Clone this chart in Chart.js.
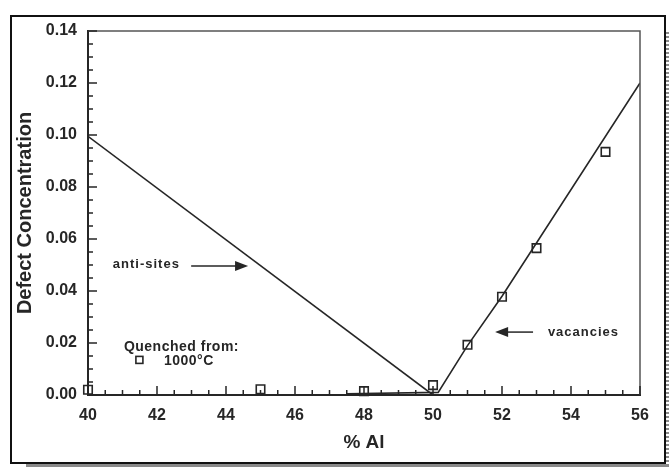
<!DOCTYPE html>
<html>
<head>
<meta charset="utf-8">
<script src="https://cdn.jsdelivr.net/npm/chart.js@4"></script>
<style>
  body { margin: 0; background: #fff; }
  #wrap { width: 669px; height: 467px; }
</style>
</head>
<body>
<div id="wrap"><canvas id="defectChart" width="669" height="467"></canvas></div>
<script>
// values
const quenchedAl = [40, 45, 48, 50, 51, 52, 53, 55];
const quenchedConc = [0.002, 0.0022, 0.0015, 0.0038, 0.0193, 0.0378, 0.0565, 0.0935];

const antiSitesAl = [40, 50];
const antiSitesConc = [0.0995, 0.0];

const vacanciesAl = [47.5, 50.15, 51, 52, 56];
const vacanciesConc = [0.0005, 0.001, 0.019, 0.038, 0.12];

const xTicks = [40, 42, 44, 46, 48, 50, 52, 54, 56];
const yTicks = [0.00, 0.02, 0.04, 0.06, 0.08, 0.10, 0.12, 0.14];

const ink = '#262626';
const fontFamily = '"Liberation Sans", Arial, sans-serif';

const toPoints = (xs, ys) => xs.map((x, i) => ({ x: x, y: ys[i] }));

// page frame, inward ticks, plot box and the text notes
const figurePlugin = {
    id: 'figure',
    beforeDraw(chart) {
        const ctx = chart.ctx;
        ctx.save();
        ctx.fillStyle = '#fff';
        ctx.fillRect(0, 0, chart.width, chart.height);
        // shadow of the scanned frame
        ctx.fillStyle = '#8a8a8a';
        ctx.fillRect(26, 464, 643, 3);
        for (let y = 32; y < 467; y += 4) {
            ctx.fillRect(666, y, 3, 2);
        }
        ctx.strokeStyle = '#111';
        ctx.lineWidth = 2;
        ctx.strokeRect(11, 16, 654, 447);
        ctx.restore();
    },
    afterDatasetsDraw(chart) {
        const ctx = chart.ctx;
        const xs = chart.scales.x;
        const ys = chart.scales.y;
        const area = chart.chartArea;
        ctx.save();

        // top and right edges of the box
        ctx.strokeStyle = '#555';
        ctx.lineWidth = 1.5;
        ctx.beginPath();
        ctx.moveTo(area.left, area.top);
        ctx.lineTo(area.right, area.top);
        ctx.lineTo(area.right, area.bottom);
        ctx.stroke();

        // inward tick marks
        ctx.strokeStyle = ink;
        ctx.lineWidth = 1.5;
        ctx.beginPath();
        for (let v = 40; v <= 56.001; v += 0.5) {
            const px = xs.getPixelForValue(v);
            const len = Math.abs(v - Math.round(v / 2) * 2) < 0.01 ? 9 : 5;
            ctx.moveTo(px, area.bottom);
            ctx.lineTo(px, area.bottom - len);
        }
        for (let v = 0; v <= 0.1401; v += 0.005) {
            const py = ys.getPixelForValue(v);
            const len = Math.abs(v - Math.round(v / 0.02) * 0.02) < 0.0001 ? 9 : 5;
            ctx.moveTo(area.left, py);
            ctx.lineTo(area.left + len, py);
        }
        ctx.stroke();

        const at = (x, y) => [xs.getPixelForValue(x), ys.getPixelForValue(y)];

        ctx.fillStyle = ink;
        ctx.textBaseline = 'middle';
        ctx.textAlign = 'left';

        // anti-sites note
        ctx.font = 'bold 13px ' + fontFamily;
        ctx.letterSpacing = '1px';
        let p = at(40.72, 0.0504);
        ctx.fillText('anti-sites', p[0], p[1]);
        drawArrow(ctx, at(42.99, 0.0496), at(44.64, 0.0496));

        // vacancies note
        p = at(53.33, 0.0242);
        ctx.fillText('vacancies', p[0], p[1]);
        drawArrow(ctx, at(52.9, 0.0242), at(51.8, 0.0242));

        // legend
        ctx.font = 'bold 14px ' + fontFamily;
        ctx.letterSpacing = '0.5px';
        p = at(41.04, 0.0185);
        ctx.fillText('Quenched from:', p[0], p[1]);
        p = at(42.2, 0.013);
        ctx.fillText('1000°C', p[0], p[1]);
        p = at(41.49, 0.0135);
        ctx.strokeStyle = ink;
        ctx.lineWidth = 1.6;
        ctx.strokeRect(p[0] - 3.5, p[1] - 3.5, 7, 7);

        ctx.restore();
    }
};

function drawArrow(ctx, from, to) {
    const dir = Math.sign(to[0] - from[0]);
    ctx.strokeStyle = ink;
    ctx.lineWidth = 1.5;
    ctx.beginPath();
    ctx.moveTo(from[0], from[1]);
    ctx.lineTo(to[0] - dir * 8, to[1]);
    ctx.stroke();
    ctx.beginPath();
    ctx.moveTo(to[0], to[1]);
    ctx.lineTo(to[0] - dir * 13, to[1] - 5);
    ctx.lineTo(to[0] - dir * 13, to[1] + 5);
    ctx.closePath();
    ctx.fill();
}

const ctx = document.getElementById('defectChart').getContext('2d');
new Chart(ctx, {
    type: 'scatter',
    data: {
        datasets: [
            {
                label: 'anti-sites',
                data: toPoints(antiSitesAl, antiSitesConc),
                showLine: true,
                borderColor: ink,
                borderWidth: 1.6,
                pointRadius: 0,
                fill: false
            },
            {
                label: 'vacancies',
                data: toPoints(vacanciesAl, vacanciesConc),
                showLine: true,
                borderColor: ink,
                borderWidth: 1.6,
                pointRadius: 0,
                fill: false
            },
            {
                label: 'Quenched from 1000°C',
                data: toPoints(quenchedAl, quenchedConc),
                showLine: false,
                clip: false,
                pointStyle: 'rect',
                pointRadius: 6,
                pointBorderWidth: 1.6,
                pointBorderColor: ink,
                pointBackgroundColor: 'rgba(255,255,255,0)'
            }
        ]
    },
    options: {
        responsive: false,
        animation: false,
        devicePixelRatio: 1,
        layout: { padding: { left: 0, top: 31, right: 29, bottom: 0 } },
        plugins: {
            legend: { display: false },
            tooltip: { enabled: false }
        },
        scales: {
            x: {
                type: 'linear',
                min: 40,
                max: 56,
                afterFit: scale => { scale.height = 72; },
                afterBuildTicks: scale => { scale.ticks = xTicks.map(v => ({ value: v })); },
                grid: { display: false, drawTicks: false },
                border: { display: true, color: ink, width: 2 },
                ticks: {
                    padding: 11,
                    color: ink,
                    font: { family: fontFamily, size: 16, weight: 'bold' },
                    callback: v => String(v)
                },
                title: {
                    display: true,
                    text: '% Al',
                    color: ink,
                    padding: { top: 0, bottom: 13 },
                    font: { family: fontFamily, size: 19, weight: 'bold' }
                }
            },
            y: {
                type: 'linear',
                min: 0,
                max: 0.14,
                afterFit: scale => { scale.width = 88; },
                afterBuildTicks: scale => { scale.ticks = yTicks.map(v => ({ value: v })); },
                grid: { display: false, drawTicks: false },
                border: { display: true, color: ink, width: 2 },
                ticks: {
                    padding: 11,
                    color: ink,
                    font: { family: fontFamily, size: 16, weight: 'bold' },
                    callback: v => Number(v).toFixed(2)
                },
                title: {
                    display: true,
                    text: 'Defect Concentration',
                    color: ink,
                    padding: { top: 13, bottom: 0 },
                    font: { family: fontFamily, size: 20, weight: 'bold' }
                }
            }
        }
    },
    plugins: [figurePlugin]
});
</script>
</body>
</html>
